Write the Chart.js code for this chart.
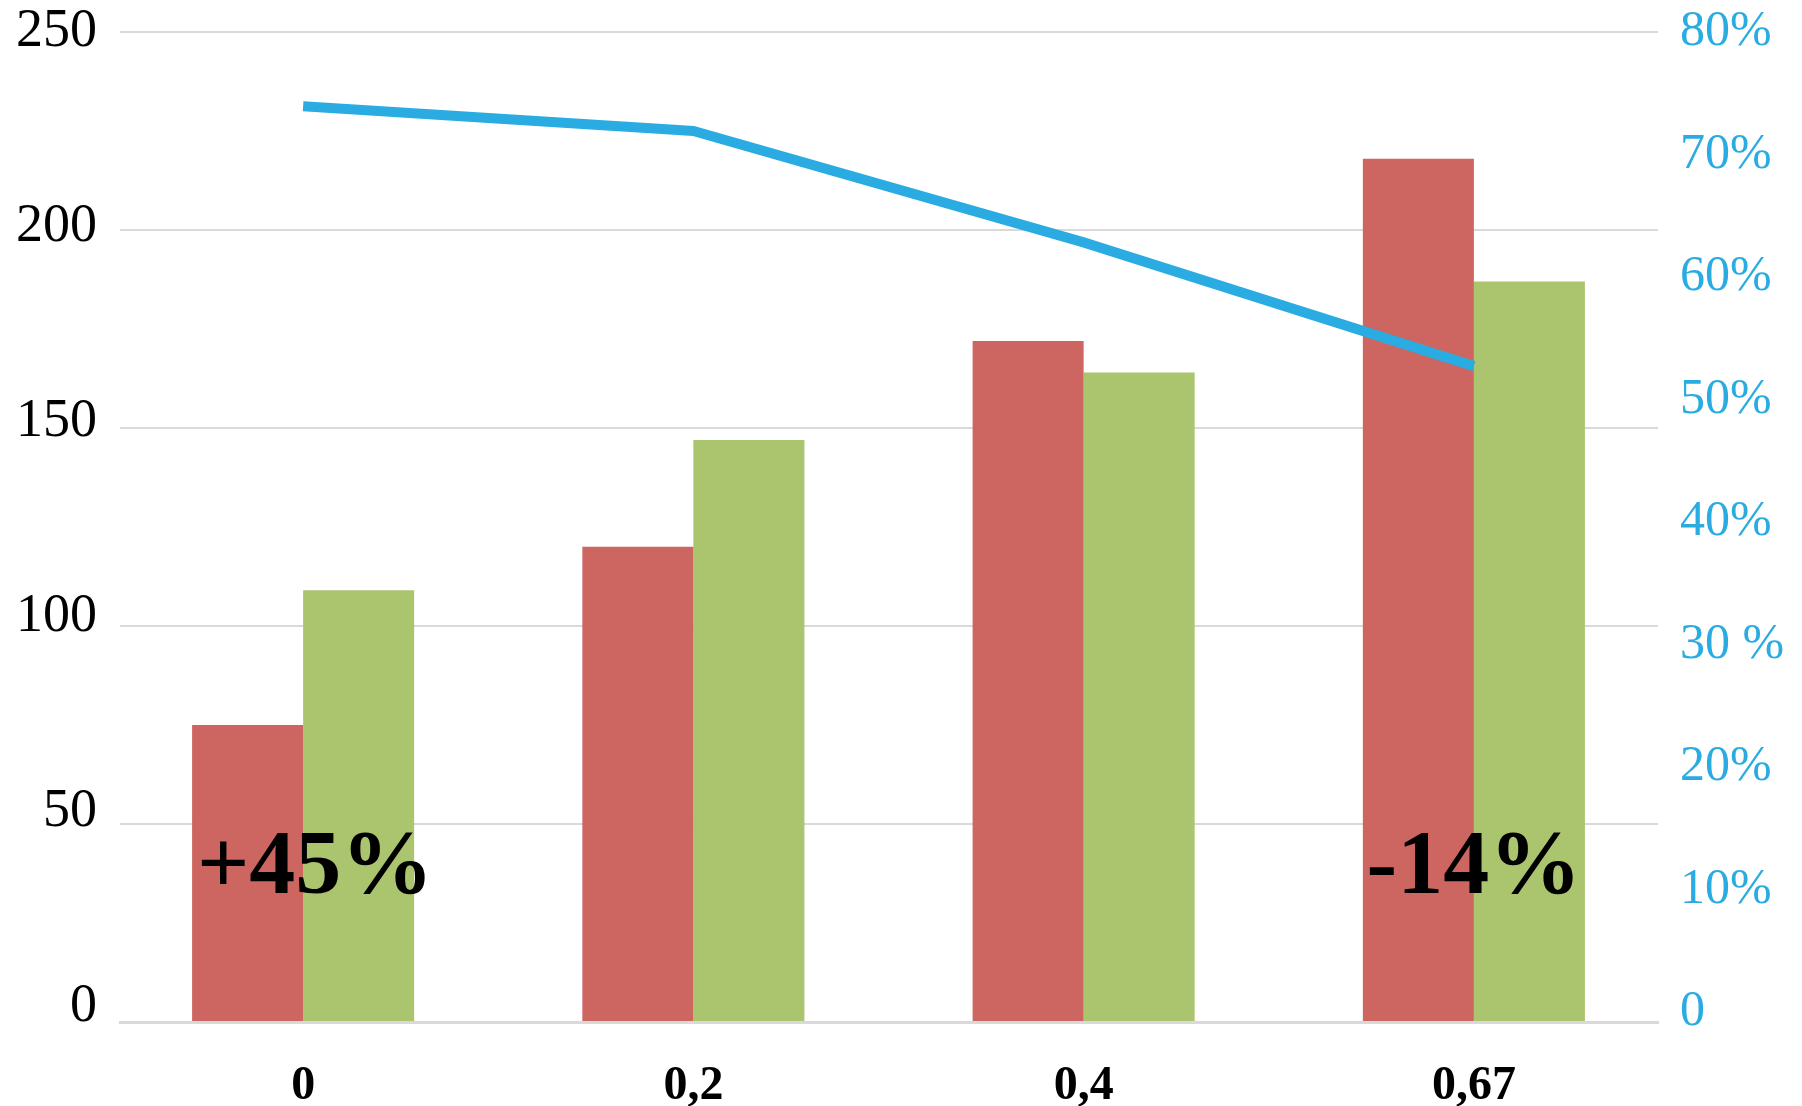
<!DOCTYPE html>
<html>
<head>
<meta charset="utf-8">
<script src="https://cdn.jsdelivr.net/npm/chart.js@4.4.1/dist/chart.umd.min.js"></script>
<style>
  html, body { margin: 0; padding: 0; background: #fff; }
  #wrap { width: 1802px; height: 1106px; position: relative; }
</style>
</head>
<body>
<div id="wrap"><canvas id="chart"></canvas></div>
<script>
// datos
const categories = ['0', '0,2', '0,4', '0,67'];
const redValues = [75, 120, 172, 218];
const greenValues = [109, 147, 164, 187];
const lineValues = [74, 72, 63, 53]; // % eje derecho
const rightTickLabels = ['0', '10%', '20%', '30 %', '40%', '50%', '60%', '70%', '80%'];
const notes = ['+45%', '', '', '-14%'];

const BLUE = '#2AACE2';
const SERIF = '"Liberation Serif", "Times New Roman", serif';

// textos grandes sobre las barras
const notesPlugin = {
  id: 'notes',
  afterDatasetsDraw(chart) {
    const { ctx, scales } = chart;
    const nudge = [12, 0, 0, 0]; // el primero va algo desplazado a la derecha
    ctx.save();
    ctx.font = 'bold 92px ' + SERIF;
    ctx.fillStyle = '#000';
    ctx.textAlign = 'center';
    ctx.textBaseline = 'alphabetic';
    notes.forEach((t, i) => {
      if (!t) return;
      const x = scales.x.getPixelForValue(i) + nudge[i];
      const y = scales.y.getPixelForValue(32.5);
      ctx.fillText(t, x, y);
    });
    ctx.restore();
  }
};

// en el original las etiquetas de los ejes Y quedan algo más juntas que la rejilla
function squeezeLabels(scale, k) {
  const orig = scale._computeLabelItems.bind(scale);
  scale._computeLabelItems = (ca) => orig(ca).map((it) => {
    const t = it.options.translation;
    t[1] = scale.top + (t[1] - scale.top) * k;
    return it;
  });
}

// ajustes tras el layout
const layoutPlugin = {
  id: 'tweakLayout',
  afterLayout(chart) {
    const x = chart.scales.x;
    // las categorías van un poco más abiertas que la rejilla
    x._startPixel -= 12;
    x._length += 23;
    squeezeLabels(chart.scales.y, 0.985);
    squeezeLabels(chart.scales.y1, 0.99);
  }
};

// sin relleno extra de las etiquetas: el área la fija layout.padding
const noPad = (s) => { s.paddingTop = 0; s.paddingBottom = 0; s.paddingLeft = 0; s.paddingRight = 0; };

new Chart(document.getElementById('chart').getContext('2d'), {
  data: {
    labels: categories,
    datasets: [
      {
        type: 'line',
        data: lineValues,
        yAxisID: 'y1',
        borderColor: BLUE,
        borderWidth: 10,
        pointRadius: 0,
        tension: 0,
        order: 0
      },
      {
        type: 'bar',
        data: redValues,
        yAxisID: 'y',
        backgroundColor: '#CD6560',
        barPercentage: 1,
        categoryPercentage: 0.569,
        order: 1
      },
      {
        type: 'bar',
        data: greenValues,
        yAxisID: 'y',
        backgroundColor: '#ABC46E',
        barPercentage: 1,
        categoryPercentage: 0.569,
        order: 2
      }
    ]
  },
  options: {
    responsive: true,
    maintainAspectRatio: false,
    animation: false,
    layout: { padding: { top: 32, left: 0, right: 0, bottom: 0 } },
    plugins: {
      legend: { display: false },
      tooltip: { enabled: false }
    },
    scales: {
      x: {
        grid: { display: false },
        border: { display: true, color: '#d9d9d9', width: 3 },
        ticks: {
          color: '#000',
          font: { family: SERIF, size: 48, weight: 'bold' },
          padding: 28,
          maxRotation: 0
        },
        afterFit(s) { s.height = 84; noPad(s); }
      },
      y: {
        position: 'left',
        min: 0,
        max: 250,
        grid: { color: '#d9d9d9', lineWidth: 2, drawTicks: false },
        border: { display: false },
        ticks: {
          stepSize: 50,
          color: '#000',
          font: { family: SERIF, size: 54 },
          padding: 23
        },
        afterFit(s) { s.width = 120; noPad(s); }
      },
      y1: {
        position: 'right',
        min: 0,
        max: 80,
        grid: { display: false, drawTicks: false },
        border: { display: false },
        ticks: {
          stepSize: 10,
          color: BLUE,
          font: { family: SERIF, size: 50 },
          padding: 22,
          callback: (v) => rightTickLabels[Math.round(v / 10)]
        },
        afterFit(s) { s.width = 144; noPad(s); }
      }
    }
  },
  plugins: [layoutPlugin, notesPlugin]
});
</script>
</body>
</html>
